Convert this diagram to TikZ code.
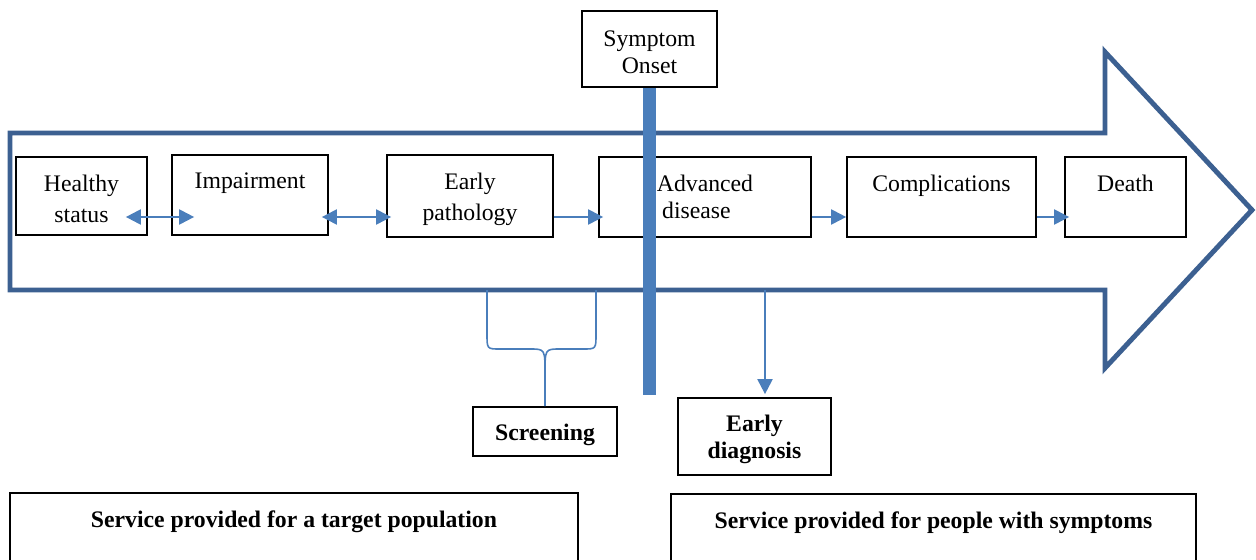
\documentclass[tikz,border=0pt]{standalone}
\usepackage{fontspec}
\setmainfont{Liberation Serif}
\usetikzlibrary{arrows.meta}
\definecolor{bandblue}{RGB}{60,96,145}
\definecolor{linkblue}{RGB}{74,126,187}
\newcommand{\upstrut}{\rule{0pt}{13pt}}

\tikzset{
  stage/.style={draw=black, line width=1pt, fill=white, align=center, inner sep=2pt,
    font=\fontsize{13.5}{15.5}\selectfont},
  service/.style={draw=black, line width=1pt, fill=white, anchor=north, inner sep=4pt,
    text height=0.56cm, text depth=1.54cm, font=\fontsize{13.5}{15.5}\selectfont\bfseries},
  link/.style={draw=linkblue, line width=1.2pt, >={Triangle[length=0.3cm,width=0.3cm]}},
}

\begin{document}
\begin{tikzpicture}[x=0.02cm, y=-0.02cm]
    \path[use as bounding box, clip] (0,0) rectangle (1256,560);

    %% the big arrow
    \draw[bandblue, line width=2.8pt, fill=white] (10,133) -- (1105,133) -- (1105,52)
      -- (1252,210) -- (1105,368) -- (1105,290) -- (10,290) -- cycle;

    %% the stages
    \node[stage, minimum width=2.62cm, minimum height=1.56cm] (healthy) at (81.5,196) {\upstrut Healthy\\[2pt] status};
    \node[stage, minimum width=3.12cm, minimum height=1.6cm] (impair) at (250,195) {\upstrut Impairment\\ \strut};
    \node[stage, minimum width=3.32cm, minimum height=1.64cm] (early) at (470,196) {\upstrut Early\\[2pt] pathology};
    \node[stage, minimum width=4.24cm, minimum height=1.6cm, align=left] (advanced) at (705,197) {Advanced\\ \hspace{3pt}disease};
    \node[stage, minimum width=3.78cm, minimum height=1.6cm] (compl) at (941.5,197) {Complications\\[-5pt] \strut};
    \node[stage, minimum width=2.42cm, minimum height=1.6cm] (death) at (1125.5,197) {Death\\[-5pt] \strut};

    %% links between stages
    \draw[link, <->, shorten <=-0.44cm, shorten >=-0.46cm] ([yshift=-0.42cm]healthy.east) -- ([yshift=-0.42cm]healthy.east -| impair.west);
    \draw[link, <->, shorten <=-0.14cm, shorten >=-0.1cm] ([yshift=-0.44cm]impair.east) -- ([yshift=-0.44cm]impair.east -| early.west);
    \draw[link, ->, shorten >=-0.1cm] ([yshift=-0.42cm]early.east) -- ([yshift=-0.42cm]early.east -| advanced.west);
    \draw[link, ->] ([yshift=-0.4cm]advanced.east) -- ([yshift=-0.4cm]advanced.east -| compl.west);
    \draw[link, ->, shorten >=-0.1cm] ([yshift=-0.4cm]compl.east) -- ([yshift=-0.4cm]compl.east -| death.west);

    %% symptom onset
    \node[stage, minimum width=2.7cm, minimum height=1.52cm] (onset) at (649.5,49) {\upstrut Symptom\\ Onset};
    \coordinate (barend) at (649.5,395);
    \draw[linkblue, line width=0.26cm] (onset.south) -- (barend);

    %% screening
    \node[stage, minimum width=2.88cm, minimum height=0.98cm, font=\fontsize{13.5}{15.5}\selectfont\bfseries] (screen) at (545,431.5) {\upstrut Screening};
    \coordinate (braceleft) at (487,290);
    \coordinate (braceright) at (596,290);
    \draw[linkblue, line width=0.9pt] (braceleft) -- (487,334) .. controls (487,349) .. (500,349)
      -- (530,349) .. controls (545,349) .. (545,374) -- (screen.north);
    \draw[linkblue, line width=0.9pt] (braceright) -- (596,334) .. controls (596,349) .. (583,349)
      -- (560,349) .. controls (545,349) .. (545,374);

    %% early diagnosis
    \node[stage, minimum width=3.06cm, minimum height=1.54cm, font=\fontsize{13.5}{15.5}\selectfont\bfseries] (diag) at (754.5,436.5) {\upstrut Early\\ diagnosis};
    \coordinate (diagstart) at (765,290);
    \draw[link, ->, shorten >=0.06cm] (diagstart) -- (diagstart |- diag.north);

    %% services
    \node[service, minimum width=11.36cm] (target) at (294,492) {Service provided for a target population};
    \node[service, minimum width=10.5cm] (sympt) at (933.5,493) {Service provided for people with symptoms};
  \end{tikzpicture}
\end{document}
